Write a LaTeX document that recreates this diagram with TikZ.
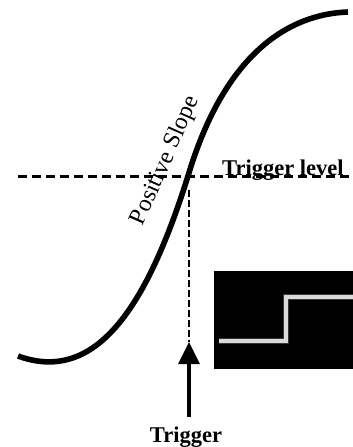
\documentclass[tikz,border=0pt]{standalone}
\usepackage{fontspec}
\setmainfont{Liberation Serif}
\usetikzlibrary{arrows.meta}
\definecolor{stepgray}{RGB}{218,218,218}
\definecolor{glowgray}{RGB}{110,110,110}
\tikzset{
  curveline/.style={line width=5.6pt, line cap=butt},
  levelline/.style={line width=3pt, dash pattern=on 9pt off 5pt},
  dropline/.style={line width=1.4pt, dash pattern=on 7pt off 3pt},
  trigarrow/.style={line width=3.4pt, -{Triangle[width=21pt,length=22pt]}},
  labelbold/.style={font=\fontsize{22.5}{24}\selectfont\bfseries, inner sep=0pt},
  labelreg/.style={font=\fontsize{24}{26}\selectfont, inner sep=0pt},
  scopebox/.style={fill=black, draw=none},
  stepglow/.style={glowgray, line width=6pt, line join=miter},
  stepline/.style={stepgray, line width=3.5pt, line join=miter}
}
\begin{document}
\begin{tikzpicture}[x=1pt, y=-1pt]
\useasboundingbox (0,0) rectangle (353,447);
% inset screenshot
\fill[scopebox] (214,271) rectangle (353,369);
\coordinate (s1) at (219,341);
\coordinate (s2) at (286,341);
\coordinate (s3) at (286,297);
\coordinate (s4) at (353,297);
\draw[stepglow, opacity=0.5] (s1) -- (s2) -- (s3) -- (s4);
\draw[stepline] (s1) -- (s2) -- (s3) -- (s4);
% level line
\coordinate (lvlL) at (18,176);
\coordinate (lvlR) at (352,176);
\draw[levelline] (lvlL) -- (lvlR);
% crossing point
\coordinate (cross) at (188,176);
\coordinate (cstart) at (18,356);
\coordinate (cend) at (348,12);
\draw[curveline] (cstart) .. controls (100,386) and (150,297) .. (cross)
                          .. controls (225,52) and (290,14) .. (cend);
% drop line
\coordinate (droptop) at (189,190);
\coordinate (foot) at (189,342);
\draw[dropline] (droptop) -- (foot);
% labels
\node[labelbold, anchor=base west] (lvltext) at (222,175) {Trigger level};
\node[labelbold, anchor=base] (trig) at (186,442) {Trigger};
\node[labelreg, anchor=base, rotate=66] (slope) at (171,163) {Positive Slope};
\draw[trigarrow] ([yshift=9pt]trig.north -| foot) -- (foot);
\end{tikzpicture}
\end{document}
